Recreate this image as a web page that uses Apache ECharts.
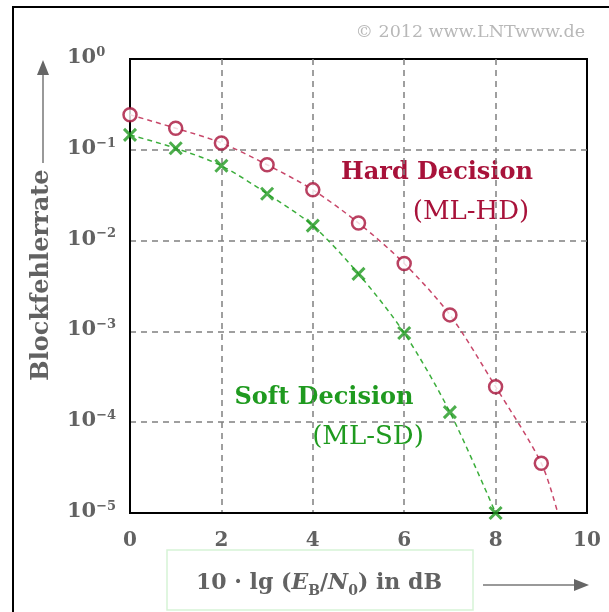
<!DOCTYPE html>
<html>
<head>
<meta charset="utf-8">
<script src="https://cdn.jsdelivr.net/npm/echarts@6/dist/echarts.min.js"></script>
<style>
html,body{margin:0;padding:0;background:#fff;}
#chart{width:609px;height:612px;}
</style>
</head>
<body>
<div id="chart"></div>
<script>
// ---- data ----
const snrDb = [0, 1, 2, 3, 4, 5, 6, 7, 8, 9];
const hardDecision = [0.243, 0.173, 0.119, 0.0684, 0.0362, 0.0156, 0.0056, 0.00152, 0.000246, 0.0000353];
const softDecision = [0.146, 0.104, 0.0667, 0.0328, 0.0146, 0.0043, 0.00096, 0.000129, 0.00001];
const hardCurveEnd = [9.36, 0.00001];
const xTicks = [0, 2, 4, 6, 8, 10];
const yTickExponents = [-5, -4, -3, -2, -1, 0];

const RED = '#a8123a';
const RED_LINE = '#c8476a';
const GREEN = '#1f9a1f';
const GREEN_LINE = '#3cae3c';
const GREY = '#626262';
const FONT = '"DejaVu Serif", "Liberation Serif", serif';

const hdPoints = snrDb.map((x, i) => [x, hardDecision[i]]);
const sdPoints = softDecision.map((v, i) => [snrDb[i], v]);
const hdCurve = hdPoints.concat([hardCurveEnd]);
const sdCurve = sdPoints.slice();

const chart = echarts.init(document.getElementById('chart'), null, {renderer: 'canvas'});

function supLabel(v) {
  const e = Math.round(Math.log10(v));
  const s = e < 0 ? '\u2212' + (-e) : String(e);
  return '{b|10}{s|' + s + '}';
}

const option = {
  animation: false,
  backgroundColor: '#fff',
  grid: {left: 130, right: 22, top: 59, bottom: 99, show: true, borderColor: '#000', borderWidth: 2, backgroundColor: 'transparent'},
  xAxis: {
    type: 'value', min: 0, max: 10, interval: 2,
    axisLine: {show: true, lineStyle: {color: '#000', width: 2}},
    axisTick: {show: false},
    axisLabel: {color: GREY, fontFamily: FONT, fontWeight: 'bold', fontSize: 20, margin: 18,
      formatter: v => xTicks.indexOf(v) >= 0 ? String(v) : ''},
    splitLine: {show: true, showMinLine: false, showMaxLine: false, lineStyle: {color: '#808080', width: 1.5, type: [6, 5]}}
  },
  yAxis: {
    type: 'log', logBase: 10, min: 1e-5, max: 1,
    axisLine: {show: true, lineStyle: {color: '#000', width: 2}},
    axisTick: {show: false},
    axisLabel: {
      align: 'left', margin: 63,
      formatter: v => yTickExponents.indexOf(Math.round(Math.log10(v))) >= 0 ? supLabel(v) : '',
      rich: {
        b: {color: GREY, fontFamily: FONT, fontWeight: 'bold', fontSize: 21, verticalAlign: 'bottom', lineHeight: 26, padding: [0, 0, 4, 0]},
        s: {color: GREY, fontFamily: FONT, fontWeight: 'bold', fontSize: 13, verticalAlign: 'top', lineHeight: 26}
      }
    },
    splitLine: {show: true, showMinLine: false, showMaxLine: false, lineStyle: {color: '#808080', width: 1.5, type: [6, 5]}}
  },
  series: [
    {type: 'line', data: hdCurve, smooth: 0.3, symbol: 'none', lineStyle: {color: RED_LINE, width: 1.5, type: [5, 4]}, z: 2},
    {type: 'line', data: sdCurve, smooth: 0.3, symbol: 'none', lineStyle: {color: GREEN_LINE, width: 1.5, type: [5, 4]}, z: 2},
    {type: 'scatter', data: hdPoints, symbol: 'circle', symbolSize: 13,
      itemStyle: {color: '#fff', borderColor: RED, borderWidth: 2.5}, z: 4},
    {type: 'scatter', data: sdPoints, symbol: 'path://M0,0L10,10M10,0L0,10', symbolSize: 12,
      itemStyle: {color: 'none', borderColor: GREEN, borderWidth: 3}, z: 4}
  ],
  graphic: [
    {type: 'rect', shape: {x: 13, y: 7, width: 620, height: 620}, style: {fill: 'none', stroke: '#000', lineWidth: 2}, silent: true},
    {type: 'text', right: 24, top: 23, style: {text: '\u00a9 2012 www.LNTwww.de', fill: '#b8b8b8', font: '17.5px ' + FONT}},
    {type: 'text', x: 437, y: 173, style: {text: 'Hard Decision', fill: RED, font: 'bold 24px ' + FONT, align: 'center', verticalAlign: 'middle'}},
    {type: 'text', x: 471, y: 212, style: {text: '(ML-HD)', fill: RED, font: '26px ' + FONT, align: 'center', verticalAlign: 'middle'}},
    {type: 'text', x: 324, y: 398, style: {text: 'Soft Decision', fill: GREEN, font: 'bold 24px ' + FONT, align: 'center', verticalAlign: 'middle'}},
    {type: 'text', x: 368, y: 437, style: {text: '(ML-SD)', fill: GREEN, font: '26px ' + FONT, align: 'center', verticalAlign: 'middle'}},
    // y-axis title + arrow
    {type: 'text', x: 42, y: 275, rotation: Math.PI / 2,
      style: {text: 'Blockfehlerrate', fill: GREY, font: 'bold 24px ' + FONT, align: 'center', verticalAlign: 'middle'}},
    {type: 'line', shape: {x1: 43, y1: 163, x2: 43, y2: 72}, style: {stroke: '#777', lineWidth: 1.5}},
    {type: 'polygon', shape: {points: [[43, 60], [37, 75], [49, 75]]}, style: {fill: '#666'}},
    // x-axis title box + arrow
    {type: 'rect', shape: {x: 167, y: 550, width: 306, height: 60}, style: {fill: 'none', stroke: '#d6f3d6', lineWidth: 1.5}},
    {type: 'text', x: 319, y: 583, style: {
      text: '{a|10 \u00b7 lg (}{i|E}{u|B}{a|/}{i|N}{u|0}{a|) in dB}',
      align: 'center', verticalAlign: 'middle',
      rich: {
        a: {fill: GREY, font: 'bold 22px ' + FONT, verticalAlign: 'middle', lineHeight: 30},
        i: {fill: GREY, font: 'italic bold 22px ' + FONT, verticalAlign: 'middle', lineHeight: 30},
        u: {fill: GREY, font: 'bold 14px ' + FONT, verticalAlign: 'bottom', lineHeight: 30}
      }}},
    {type: 'line', shape: {x1: 483, y1: 585, x2: 577, y2: 585}, style: {stroke: '#777', lineWidth: 1.5}},
    {type: 'polygon', shape: {points: [[589, 585], [574, 579], [574, 591]]}, style: {fill: '#666'}}
  ]
};
chart.setOption(option);
</script>
</body>
</html>
